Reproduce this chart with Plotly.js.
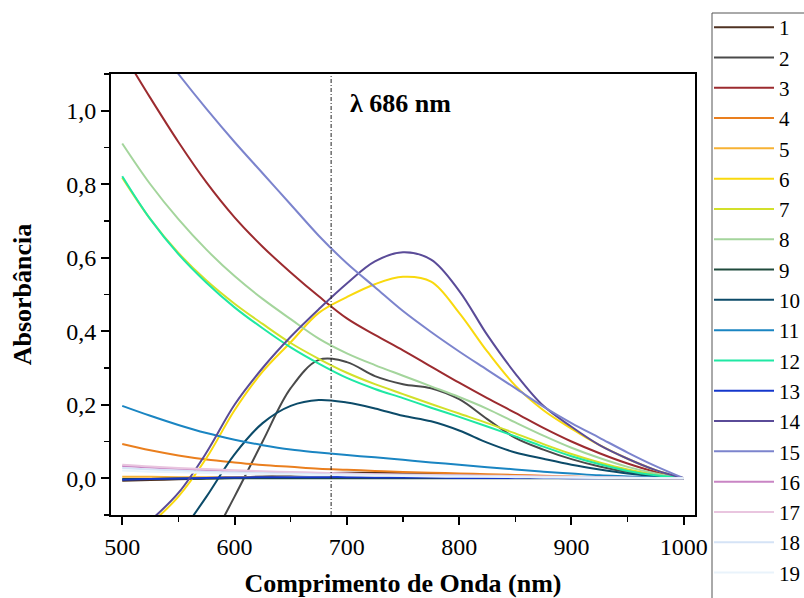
<!DOCTYPE html>
<html><head><meta charset="utf-8">
<script src="https://cdn.plot.ly/plotly-3.0.1.min.js"></script>
<style>html,body{margin:0;padding:0;background:#fff}#chart{width:804px;height:598px}</style>
</head><body><div id="chart"></div>
<script>
const wavelength = [500,525,550,575,600,625,650,675,700,725,750,775,800,825,850,875,900,925,950,975,1000];
const s1 = [-0.007,-0.005,-0.003,-0.001,0.002,0.005,0.009,0.013,0.015,0.015,0.014,0.012,0.010,0.008,0.006,0.004,0.003,0.002,0.001,0.0005,0];
const s2 = [-0.50,-0.40,-0.30,-0.19,-0.05,0.10,0.245,0.322,0.316,0.278,0.256,0.245,0.215,0.161,0.110,0.078,0.052,0.032,0.017,0.007,0];
const s3 = [1.16,1.035,0.915,0.805,0.71,0.63,0.56,0.495,0.435,0.39,0.348,0.304,0.26,0.218,0.178,0.137,0.10,0.068,0.04,0.017,0];
const s4 = [0.093,0.076,0.062,0.051,0.043,0.036,0.031,0.026,0.023,0.020,0.017,0.015,0.013,0.011,0.009,0.007,0.005,0.003,0.002,0.001,0];
const s5 = [0.004,0.004,0.003,0.003,0.003,0.002,0.002,0.002,0.002,0.002,0.001,0.001,0.001,0.001,0.001,0.001,0.0005,0.0005,0,0,0];
const s6 = [-0.19,-0.125,-0.05,0.055,0.185,0.29,0.37,0.45,0.493,0.528,0.548,0.535,0.45,0.345,0.252,0.185,0.135,0.09,0.053,0.022,0];
const s7 = [0.818,0.705,0.613,0.538,0.475,0.42,0.368,0.325,0.287,0.256,0.229,0.202,0.176,0.15,0.122,0.093,0.066,0.043,0.024,0.01,0];
const s8 = [0.911,0.80,0.705,0.622,0.55,0.488,0.433,0.38,0.34,0.308,0.279,0.25,0.221,0.189,0.152,0.116,0.083,0.055,0.031,0.013,0];
const s9 = [-0.002,-0.002,-0.001,-0.001,0,0,0,0,0,0,0,0,0,0,0,0,0,0,0,0,0];
const s10 = [-0.38,-0.27,-0.16,-0.05,0.065,0.15,0.197,0.213,0.206,0.19,0.17,0.155,0.13,0.097,0.07,0.053,0.037,0.024,0.013,0.005,0];
const s11 = [0.197,0.17,0.145,0.123,0.105,0.09,0.078,0.07,0.063,0.057,0.05,0.043,0.037,0.03,0.024,0.018,0.013,0.008,0.005,0.002,0];
const s12 = [0.822,0.705,0.61,0.532,0.465,0.408,0.356,0.312,0.273,0.243,0.218,0.192,0.167,0.141,0.114,0.086,0.06,0.038,0.02,0.008,0];
const s13 = [-0.004,-0.002,-0.001,0.001,0.002,0.003,0.003,0.003,0.003,0.002,0.002,0.002,0.001,0.001,0.001,0.001,0,0,0,0,0];
const s14 = [-0.175,-0.115,-0.04,0.07,0.20,0.30,0.385,0.46,0.53,0.59,0.615,0.595,0.51,0.39,0.285,0.197,0.14,0.09,0.053,0.022,0];
const s15 = [1.30,1.20,1.10,1.005,0.915,0.83,0.745,0.66,0.585,0.52,0.455,0.398,0.345,0.295,0.245,0.195,0.15,0.11,0.07,0.033,0];
const s16 = [0.033,0.029,0.025,0.022,0.019,0.017,0.015,0.013,0.012,0.010,0.009,0.008,0.007,0.006,0.005,0.004,0.003,0.002,0.001,0.0005,0];
const s17 = [0.037,0.032,0.028,0.025,0.022,0.019,0.017,0.015,0.013,0.011,0.010,0.009,0.008,0.007,0.006,0.005,0.004,0.003,0.002,0.001,0];
const s18 = [0.028,0.024,0.021,0.018,0.016,0.014,0.012,0.011,0.010,0.009,0.008,0.007,0.006,0.005,0.004,0.003,0.002,0.002,0.001,0.0005,0];
const s19 = [0.021,0.018,0.016,0.014,0.012,0.011,0.010,0.009,0.008,0.007,0.006,0.005,0.004,0.004,0.003,0.002,0.002,0.001,0.001,0,0];

const seriesNames = ['1','2','3','4','5','6','7','8','9','10','11','12','13','14','15','16','17','18','19'];
const seriesColors = ['#4f3222','#4a4a4a','#9c2b2f','#ea7f1e','#f7b234','#f9d90e','#d2e02a','#a4d59c','#1f4a3c',
  '#0c4b69','#1a85c2','#1fe8a4','#1437cc','#5a4b98','#7c84cd','#c985c4','#e9c5df','#d5e3f6','#e9f3fb'];
const seriesValues = [s1,s2,s3,s4,s5,s6,s7,s8,s9,s10,s11,s12,s13,s14,s15,s16,s17,s18,s19];

const markerWavelength = 686;
const markerLabel = '<b>λ 686 nm</b>';
const xTitle = '<b>Comprimento de Onda (nm)</b>';
const yTitle = '<b>Absorbância</b>';

const serif = "'Liberation Serif', 'Times New Roman', serif";

const traces = seriesValues.map((vals, i) => ({
  type: 'scatter', mode: 'lines', x: wavelength, y: vals, name: seriesNames[i],
  line: {color: seriesColors[i], width: 2, shape: 'spline', smoothing: 1}
}));
// helper trace so the label-only overlay axis is drawn
traces.push({type: 'scatter', mode: 'lines', x: [], y: [], xaxis: 'x3', yaxis: 'y', showlegend: false, hoverinfo: 'skip'});

const W = 804, H = 598, mL = 111, mR = 109, mT = 74, mB = 83;
const plotW = W - mL - mR, plotH = H - mT - mB;
const px2paperX = p => (p - mL) / plotW;
const px2paperY = p => (H - mB - p) / plotH;
const xRange = [490, 1010];

const layout = {
  width: W, height: H,
  margin: {l: mL, r: mR, t: mT, b: mB},
  paper_bgcolor: '#fff', plot_bgcolor: '#fff',
  separators: ',.',
  font: {family: serif, size: 24, color: '#000'},
  showlegend: true,
  xaxis: {
    range: xRange, tick0: 500, dtick: 100, ticks: 'outside', ticklen: 8, tickwidth: 2, tickcolor: '#000',
    showticklabels: false,
    showline: true, linecolor: '#000', linewidth: 2, mirror: true, showgrid: false, zeroline: false,
    minor: {dtick: 50, ticks: 'outside', ticklen: 5, tickwidth: 1.5, tickcolor: '#000'}
  },
  xaxis3: {
    range: xRange, overlaying: 'x', anchor: 'free', position: 1 / plotH, side: 'bottom', tick0: 500, dtick: 100,
    ticks: 'outside', ticklen: 11, tickcolor: 'rgba(0,0,0,0)', showline: false, showgrid: false, zeroline: false,
    tickfont: {family: serif, size: 24},
    title: {text: xTitle, font: {family: serif, size: 26}, standoff: 32}
  },
  yaxis: {
    range: [-0.1, 1.1], tick0: 0, dtick: 0.2, tickformat: '.1f', ticks: 'outside', ticklen: 8, tickwidth: 2, tickcolor: '#000',
    showline: true, linecolor: '#000', linewidth: 2, mirror: true, showgrid: false, zeroline: false,
    minor: {dtick: 0.1, ticks: 'outside', ticklen: 5, tickwidth: 1.5, tickcolor: '#000'},
    tickfont: {family: serif, size: 24},
    title: {text: yTitle, font: {family: serif, size: 26}, standoff: 27}
  },
  shapes: [
    {type: 'line', xref: 'x', yref: 'paper', x0: markerWavelength, x1: markerWavelength, y0: 0, y1: 1,
     line: {color: '#222', width: 1, dash: '4px,2px,1px,2px'}},
    {type: 'rect', xref: 'paper', yref: 'paper', x0: px2paperX(712), x1: px2paperX(815), y0: px2paperY(13), y1: px2paperY(640),
     line: {color: '#555', width: 1}, fillcolor: 'rgba(0,0,0,0)', layer: 'below'}
  ],
  annotations: [{xref: 'x', yref: 'y', x: markerWavelength + 15, y: 1.02, text: markerLabel, showarrow: false,
                 xanchor: 'left', yanchor: 'middle', font: {family: serif, size: 26, color: '#000'}}],
  legend: {
    xref: 'container', yref: 'container', x: 709/W, y: 1 - 7/H, xanchor: 'left', yanchor: 'top',
    borderwidth: 0, bgcolor: 'rgba(0,0,0,0)', font: {family: serif, size: 21, color: '#000'},
    itemwidth: 60, tracegroupgap: 0, traceorder: 'normal', maxheight: 2000
  }
};

Plotly.newPlot('chart', traces, layout, {displayModeBar: false, staticPlot: true});
</script>
</body></html>
